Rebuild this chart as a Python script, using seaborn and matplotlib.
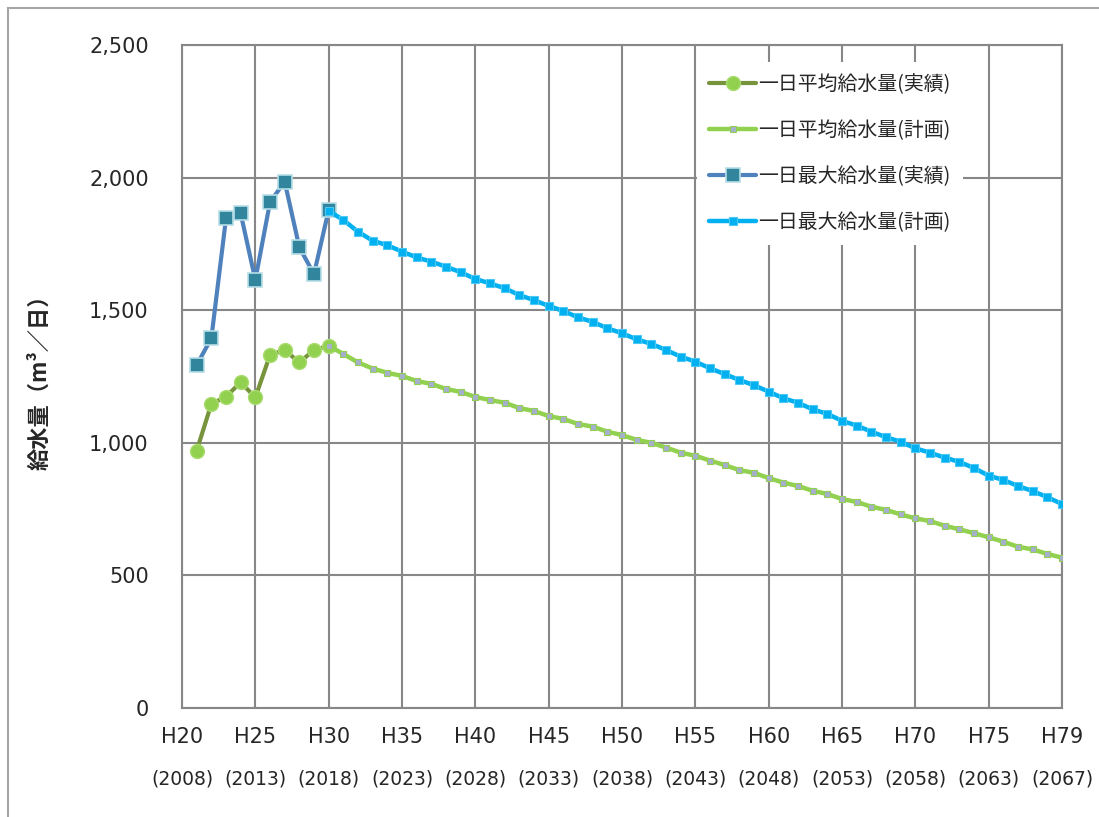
import matplotlib
matplotlib.use('Agg')
import matplotlib.pyplot as plt
import seaborn as sns
from matplotlib.patches import Rectangle
from matplotlib.ticker import FuncFormatter

# 実績 (H21-H30)
x_actual = list(range(21, 31))
avg_actual = [970, 1146, 1174, 1228, 1171, 1331, 1350, 1303, 1350, 1365]
max_actual = [1293, 1394, 1846, 1865, 1614, 1907, 1985, 1737, 1636, 1878]

# 計画 (H30 以降)
x_plan = list(range(30, 81))
avg_plan = [1366, 1335, 1303, 1280, 1264, 1252, 1233, 1222, 1203, 1192, 1173, 1161, 1151, 1131, 1120, 1101, 1090,
            1071, 1061, 1042, 1029, 1011, 1000, 982, 963, 951, 933, 916, 897, 887, 867, 850, 837, 819,
            807, 788, 777, 759, 747, 730, 715, 705, 687, 674, 659, 644, 627, 608, 598, 581, 567]
max_plan = [1875, 1840, 1796, 1762, 1745, 1721, 1699, 1683, 1664, 1643, 1618, 1601, 1583, 1557, 1538, 1516, 1497,
            1473, 1456, 1432, 1413, 1390, 1373, 1350, 1325, 1306, 1281, 1259, 1237, 1217, 1193, 1168, 1151, 1126,
            1109, 1083, 1065, 1042, 1021, 1004, 979, 963, 944, 928, 905, 876, 860, 837, 818, 795, 769]

tick_pos = [20, 25, 30, 35, 40, 45, 50, 55, 60, 65, 70, 75, 80]
tick_labels = ['H20', 'H25', 'H30', 'H35', 'H40', 'H45', 'H50', 'H55', 'H60', 'H65', 'H70', 'H75', 'H79']
tick_years = ['2008', '2013', '2018', '2023', '2028', '2033', '2038', '2043', '2048', '2053', '2058', '2063', '2067']

sns.set_style('white')
plt.rcParams['font.family'] = ['DejaVu Sans', 'Noto Sans CJK JP']
jp = ['Noto Sans CJK JP', 'DejaVu Sans']
grid_col = '#878787'

fig = plt.figure(figsize=(10.99, 8.17), dpi=100)
ax = fig.add_axes([182 / 1099, 1 - 708 / 817, 880 / 1099, 663 / 817])

sns.lineplot(x=x_actual, y=avg_actual, ax=ax, color='#77933C', lw=3, marker='o', markersize=10,
             markerfacecolor='#92D050', markeredgecolor='#A9DC6E', markeredgewidth=1,
             label='一日平均給水量(実績)', zorder=3)
sns.lineplot(x=x_plan, y=avg_plan, ax=ax, color='#92D050', lw=3.2, marker='s', markersize=5,
             markerfacecolor='#A6B0CC', markeredgecolor='#92D050', markeredgewidth=0.8,
             label='一日平均給水量(計画)', zorder=4)
sns.lineplot(x=x_actual, y=max_actual, ax=ax, color='#4F81BD', lw=3, marker='s', markersize=10,
             markerfacecolor='#31859C', markeredgecolor='#B7DEE8', markeredgewidth=1.2,
             label='一日最大給水量(実績)', zorder=3)
sns.lineplot(x=x_plan, y=max_plan, ax=ax, color='#00B0F0', lw=3.2, marker='s', markersize=6,
             markerfacecolor='#00B0F0', markeredgecolor='#4CC8F4', markeredgewidth=0.8,
             label='一日最大給水量(計画)', zorder=4)

ax.set_xlim(20, 80)
ax.set_ylim(0, 2500)
ax.set_xticks(tick_pos)
ax.set_xticklabels(tick_labels, fontsize=15)
ax.set_yticks([0, 500, 1000, 1500, 2000, 2500])
ax.yaxis.set_major_formatter(FuncFormatter(lambda v, p: f'{int(v):,}'))
ax.tick_params(axis='y', labelsize=15, length=7, width=1.5, color=grid_col, pad=17, direction='out')
ax.tick_params(axis='x', length=5, width=1.5, color=grid_col, pad=9, direction='out')
ax.grid(True, color=grid_col, lw=1.5)
ax.set_axisbelow(True)
for s in ax.spines.values():
    s.set_color(grid_col)
    s.set_linewidth(1.5)

# 西暦 (2段目のラベル)
for xp, yr in zip(tick_pos, tick_years):
    ax.text(xp, -0.107, f'({yr})', transform=ax.get_xaxis_transform(), ha='center', va='center',
            fontsize=13.5)

ax.set_xlabel('')
ax.set_ylabel('給水量（m³／日）', fontsize=16, fontweight='bold', family=jp, labelpad=27)

leg = ax.legend(loc='upper left', bbox_to_anchor=(0.585, 0.974), borderaxespad=0, frameon=True,
                facecolor='white', edgecolor='none', framealpha=1, fancybox=False,
                prop={'family': jp, 'size': 14.3}, handlelength=2.4, handletextpad=0.1,
                labelspacing=1.25, borderpad=0.6)
leg.set_zorder(10)

fig.patches.append(Rectangle((8 / 1099, -0.05), 1.2, 1 - 8 / 817 + 0.05, transform=fig.transFigure,
                             fill=False, edgecolor='#A6A6A6', lw=1.5))

fig.savefig('out.png', dpi=100)
